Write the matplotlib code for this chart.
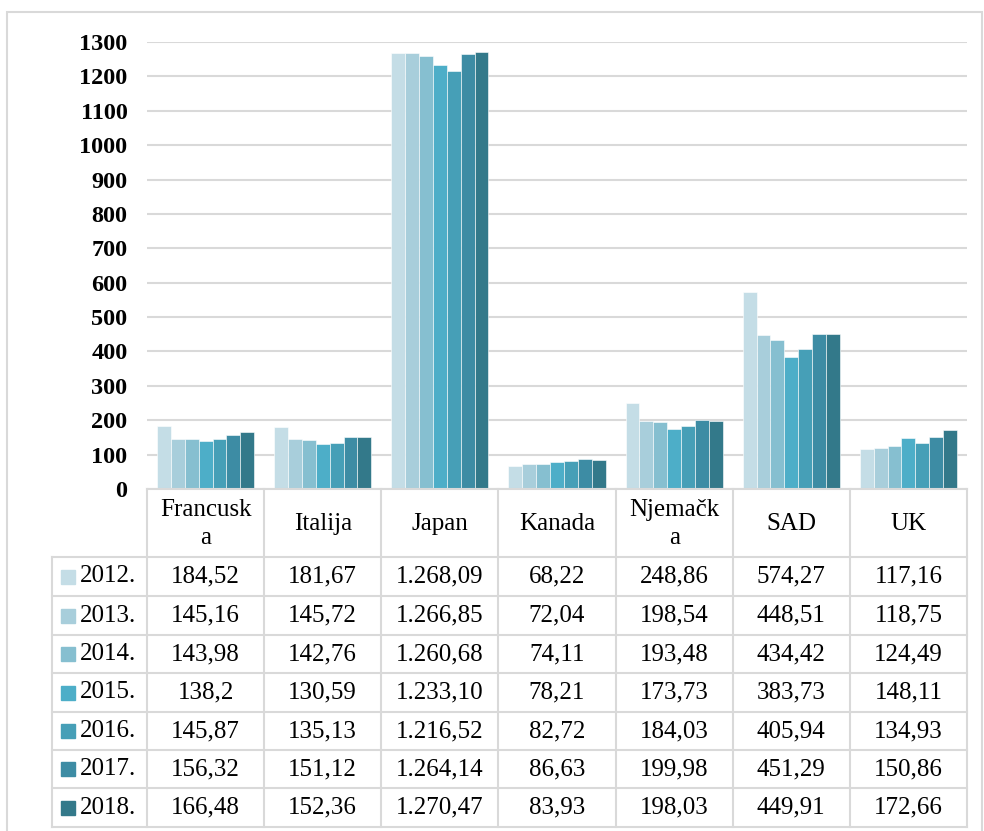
import numpy as np
import matplotlib
matplotlib.use("Agg")
import matplotlib.pyplot as plt
from matplotlib.lines import Line2D
from matplotlib.patches import Rectangle

# ---------------- data ----------------
countries = ['Francuska', 'Italija', 'Japan', 'Kanada', 'Njemačka', 'SAD', 'UK']
header_labels = ['Francusk\na', 'Italija', 'Japan', 'Kanada', 'Njemačk\na', 'SAD', 'UK']
years = ['2012.', '2013.', '2014.', '2015.', '2016.', '2017.', '2018.']

v2012 = ['184,52', '181,67', '1.268,09', '68,22', '248,86', '574,27', '117,16']
v2013 = ['145,16', '145,72', '1.266,85', '72,04', '198,54', '448,51', '118,75']
v2014 = ['143,98', '142,76', '1.260,68', '74,11', '193,48', '434,42', '124,49']
v2015 = ['138,2', '130,59', '1.233,10', '78,21', '173,73', '383,73', '148,11']
v2016 = ['145,87', '135,13', '1.216,52', '82,72', '184,03', '405,94', '134,93']
v2017 = ['156,32', '151,12', '1.264,14', '86,63', '199,98', '451,29', '150,86']
v2018 = ['166,48', '152,36', '1.270,47', '83,93', '198,03', '449,91', '172,66']
series = [v2012, v2013, v2014, v2015, v2016, v2017, v2018]

colors = ['#c4dde6', '#a8cedb', '#86bfd0', '#4daec8', '#469fb7', '#3d8ca4', '#33798a']

y_ticks = list(range(0, 1301, 100))


def to_num(s):
    return float(s.replace('.', '').replace(',', '.'))


# ---------------- figure ----------------
W, H = 984, 831
plt.rcParams['font.family'] = ['Liberation Serif', 'DejaVu Serif']
fig = plt.figure(figsize=(W / 100, H / 100), dpi=100)


def fx(x):
    return x / W


def fy(y):
    return 1 - y / H


grid_col = '#d9d9d9'
ax_left, ax_right, ax_top, ax_bottom = 147, 967, 42, 489
ax = fig.add_axes([fx(ax_left), fy(ax_bottom), (ax_right - ax_left) / W, (ax_bottom - ax_top) / H])

n = len(series)
x = np.arange(len(countries))
bw = 0.83 / n
for i, (vals, c) in enumerate(zip(series, colors)):
    ax.bar(x + (i - (n - 1) / 2) * bw, [to_num(v) for v in vals], width=bw,
           color=c, edgecolor='white', linewidth=0.4, zorder=3)

ax.set_xlim(-0.5, len(countries) - 0.5)
ax.set_ylim(0, 1300)
ax.set_yticks(y_ticks)
ax.set_yticklabels([str(t) for t in y_ticks], fontsize=17.5, fontweight='bold')
ax.tick_params(axis='y', length=0, pad=14)
ax.set_xticks([])
ax.grid(axis='y', color=grid_col, linewidth=1.5, zorder=0)
for s in ax.spines.values():
    s.set_visible(False)

# ---------------- data table ----------------
col_x = [ax_left + i * (ax_right - ax_left) / len(countries) for i in range(len(countries) + 1)]
left_x = 52
row_y = [557, 596, 635, 673, 712, 750, 788, 827]
lw = 1.5


def hline(x0, x1, y):
    fig.add_artist(Line2D([fx(x0), fx(x1)], [fy(y), fy(y)], color=grid_col, lw=lw))


def vline(x, y0, y1):
    fig.add_artist(Line2D([fx(x), fx(x)], [fy(y0), fy(y1)], color=grid_col, lw=lw))


hline(ax_left, ax_right, ax_bottom)
for y in row_y:
    hline(left_x, ax_right, y)
for cx in col_x:
    vline(cx, ax_bottom, row_y[-1])
vline(left_x, row_y[0], row_y[-1])

fs = 18
for j, lab in enumerate(header_labels):
    cx = (col_x[j] + col_x[j + 1]) / 2
    fig.text(fx(cx), fy((ax_bottom + row_y[0]) / 2 + 1), lab, ha='center', va='center',
             fontsize=fs, linespacing=1.4)

for i, (yr, vals, c) in enumerate(zip(years, series, colors)):
    cy = (row_y[i] + row_y[i + 1]) / 2
    fig.add_artist(Rectangle((fx(61), fy(cy + 7)), 14 / W, 14 / H, color=c))
    fig.text(fx(80), fy(cy), yr, ha='left', va='center', fontsize=fs)
    for j, v in enumerate(vals):
        cx = (col_x[j] + col_x[j + 1]) / 2
        fig.text(fx(cx), fy(cy), v, ha='center', va='center', fontsize=fs)

# outer chart border
fig.add_artist(Rectangle((fx(7), fy(845)), (982 - 7) / W, (845 - 12) / H,
                         fill=False, edgecolor=grid_col, lw=1.5))

fig.savefig('out.png', dpi=100)
